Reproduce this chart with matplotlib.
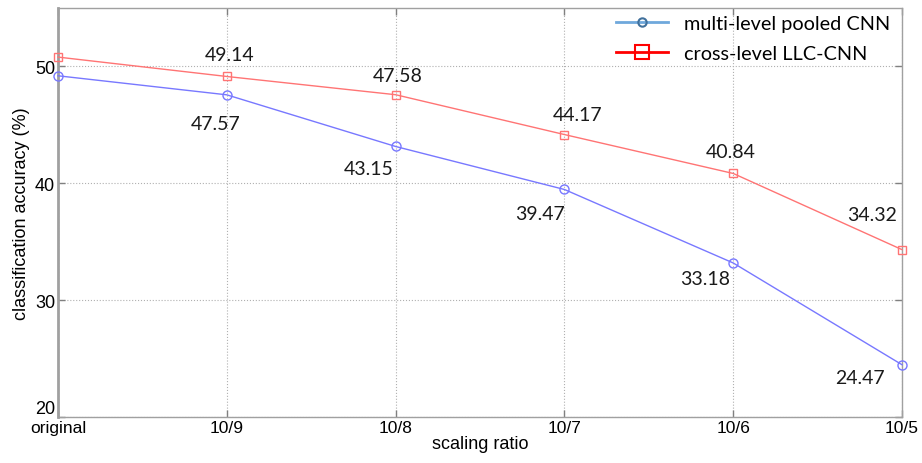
import matplotlib
matplotlib.use('Agg')
import matplotlib.pyplot as plt
from matplotlib.lines import Line2D

# scaling ratios and accuracy (%) for both networks
ratios = ['original', '10/9', '10/8', '10/7', '10/6', '10/5']
pooled_cnn = [49.2, 47.57, 43.15, 39.47, 33.18, 24.47]
llc_cnn = [50.8, 49.14, 47.58, 44.17, 40.84, 34.32]

# label offsets in pixels (first point has no label)
pooled_offsets = [None, (-11, -29), (-27, -22), (-24, -24), (-28, -16), (-42, -13)]
llc_offsets = [None, (3, 22), (2, 19), (13, 20), (-3, 22), (-30, 35)]

narrow = ['Liberation Sans Narrow', 'Liberation Sans', 'DejaVu Sans']
label_font = ['Lato', 'DejaVu Sans']

fig = plt.figure(figsize=(9.22, 4.64), dpi=100)
ax = fig.add_axes([0.0629, 0.0991, 0.9155, 0.8815])

x = list(range(len(ratios)))
ax.plot(x, pooled_cnn, color='#7878ff', lw=1, marker='o', ms=6.5,
        mfc='none', mec='#7878ff', mew=1, clip_on=False, zorder=3)
ax.plot(x, llc_cnn, color='#ff7474', lw=1, marker='s', ms=6,
        mfc='none', mec='#ff7474', mew=1, clip_on=False, zorder=3)

for xi, val, off in zip(x, pooled_cnn, pooled_offsets):
    if off is None:
        continue
    ax.annotate(f'{val:.2f}', (xi, val), xytext=off, textcoords='offset pixels',
                ha='center', va='center', fontsize=14, family=label_font, color='#1a1a1a')
for xi, val, off in zip(x, llc_cnn, llc_offsets):
    if off is None:
        continue
    ax.annotate(f'{val:.2f}', (xi, val), xytext=off, textcoords='offset pixels',
                ha='center', va='center', fontsize=14, family=label_font, color='#1a1a1a')

ax.set_xlim(0, len(ratios) - 1)
ax.set_ylim(20, 55)
ax.set_xticks(x)
ax.set_xticklabels(ratios, family=narrow, fontsize=12.5)
ax.set_yticks([20, 30, 40, 50])
ax.set_yticklabels(['20', '30', '40', '50'], family=narrow, fontsize=13)
# lowest y label sits above the x labels
ax.get_yticklabels()[0].set_va('bottom')
ax.tick_params(direction='in', top=True, right=True, length=5, width=1,
               color='#808080', pad=2)
ax.tick_params(axis='x', pad=2)

ax.grid(True, linestyle=':', color='#b0b0b0', lw=0.8)
for s in ax.spines.values():
    s.set_color('#a0a0a0')
    s.set_linewidth(1)
ax.spines['left'].set_linewidth(2)

ax.set_xlabel('scaling ratio', family=narrow, fontsize=13, labelpad=0)
ax.set_ylabel('classification accuracy (%)', family=narrow, fontsize=13, labelpad=4)

handles = [
    Line2D([], [], color='#6fa8dc', lw=2, marker='o', ms=6, mfc='none',
           mec='#41719c', mew=1.5),
    Line2D([], [], color='#ff0000', lw=2, marker='s', ms=10, mfc='none',
           mec='#ff0000', mew=1.5),
]
ax.legend(handles, ['multi-level pooled CNN', 'cross-level LLC-CNN'],
          loc='upper right', frameon=False, prop={'family': label_font, 'size': 14.3},
          handlelength=2.6, handletextpad=0.8, borderaxespad=0.2, labelspacing=0.65,
          bbox_to_anchor=(1.0, 1.012))

fig.savefig('out.png', dpi=100)
